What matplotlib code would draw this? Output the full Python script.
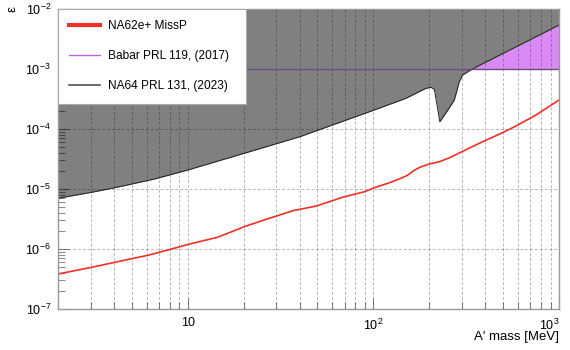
import matplotlib
matplotlib.use("Agg")
import matplotlib.pyplot as plt
from matplotlib.lines import Line2D
from matplotlib.ticker import LogLocator, FuncFormatter, NullFormatter
import numpy as np

plt.rcParams['font.family'] = ['Liberation Sans', 'DejaVu Sans']
plt.rcParams['mathtext.fontset'] = 'custom'
plt.rcParams['mathtext.rm'] = 'Liberation Sans'
plt.rcParams['mathtext.it'] = 'Liberation Sans:italic'
plt.rcParams['mathtext.bf'] = 'Liberation Sans:bold'

# NA62 e+ missing-momentum projected sensitivity
na62_mass = [2, 3.03, 4.05, 4.98, 6.1, 7.2, 8.86, 10, 14.5, 20.2, 26.5, 31.3, 36.8,
             49.2, 68.4, 89.5, 103, 122, 140, 152, 163, 178, 200, 227, 257, 372, 497,
             586, 751, 1000]
na62_eps = [3.83e-7, 4.95e-7, 6.0e-7, 6.9e-7, 7.85e-7, 9.0e-7, 1.07e-6, 1.19e-6,
            1.57e-6, 2.36e-6, 3.13e-6, 3.69e-6, 4.35e-6, 5.2e-6, 7.3e-6, 9.0e-6,
            1.07e-5, 1.27e-5, 1.50e-5, 1.68e-5, 1.98e-5, 2.30e-5, 2.61e-5, 2.85e-5,
            3.32e-5, 5.78e-5, 8.7e-5, 1.12e-4, 1.71e-4, 3.04e-4]

# NA64 exclusion boundary
na64_mass = [2, 3.03, 4.05, 6.64, 10, 21.5, 40, 101, 150, 192, 204, 213, 215, 228,
             250, 273, 290, 302, 328, 350, 1000]
na64_eps = [7.0e-6, 8.8e-6, 1.05e-5, 1.47e-5, 2.07e-5, 4.18e-5, 7.4e-5, 2.07e-4,
            3.25e-4, 4.77e-4, 4.95e-4, 4.6e-4, 3.9e-4, 1.32e-4, 2.0e-4, 3.04e-4,
            6.1e-4, 7.9e-4, 9.3e-4, 1.04e-3, 5.4e-3]

# BaBar limit
babar_mass = [2, 1000]
babar_eps = [1e-3, 1e-3]

x_range = [2, 1000]
y_range = [1e-7, 1e-2]

labels = ["NA62e+ MissP", "Babar PRL 119, (2017)", "NA64 PRL 131, (2023)"]

fig = plt.figure(figsize=(5.7, 3.5), dpi=100)
ax = fig.add_axes([58/570, 41/350, 501/570, 300/350])
ax.set_xscale('log')
ax.set_yscale('log')
ax.set_xlim(*x_range)
ax.set_ylim(*y_range)

# exclusion regions
ax.fill_between(babar_mass, babar_eps, y_range[1], color='#da8af5', lw=0, zorder=1)
ax.fill_between(na64_mass, na64_eps, y_range[1], color='#808080', lw=0, zorder=2)
ax.plot(na64_mass, na64_eps, color='#222222', lw=0.7, zorder=3)
ax.plot(babar_mass, babar_eps, color='#6f4f80', lw=1.0, zorder=3)

# sensitivity curve
ax.plot(na62_mass, na62_eps, color='#ee3028', lw=1.2, zorder=6)

# grid
ax.xaxis.set_major_locator(LogLocator(base=10, numticks=10))
ax.xaxis.set_minor_locator(LogLocator(base=10, subs=np.arange(2, 10), numticks=20))
ax.yaxis.set_major_locator(LogLocator(base=10, numticks=10))
ax.yaxis.set_minor_locator(LogLocator(base=10, subs=np.arange(2, 10), numticks=20))
ax.grid(True, which='major', axis='both', color='black', alpha=0.28, ls=(0, (3, 2)), lw=0.7, zorder=4)
ax.grid(True, which='minor', axis='x', color='black', alpha=0.28, ls=(0, (3, 2)), lw=0.7, zorder=4)
ax.set_axisbelow(False)


def xfmt(v, pos):
    e = int(round(np.log10(v)))
    if e == 1:
        return "10"
    return r"$10^{%d}$" % e


def yfmt(v, pos):
    e = int(round(np.log10(v)))
    return r"$10^{%d}$" % e


ax.xaxis.set_major_formatter(FuncFormatter(xfmt))
ax.yaxis.set_major_formatter(FuncFormatter(yfmt))
ax.xaxis.set_minor_formatter(NullFormatter())
ax.yaxis.set_minor_formatter(NullFormatter())

ax.tick_params(which='both', direction='in', colors=(0, 0, 0, 0.45), labelcolor='black',
               labelsize=9, top=False, right=False)
ax.tick_params(which='major', length=8, width=0.8)
ax.tick_params(which='minor', length=5, width=0.8)
ax.tick_params(axis='x', pad=6)
ax.tick_params(axis='y', pad=5)

for s in ax.spines.values():
    s.set_color('#999999')
    s.set_linewidth(1.0)
    s.set_zorder(7)

fig.text(559/570, (350-337)/350, "A' mass [MeV]", ha='right', va='center', fontsize=9.5)
fig.text(13/570, (350-6)/350, "ε", ha='center', va='top', rotation=90, fontsize=9.5)

handles = [Line2D([], [], color='#ee3028', lw=3),
           Line2D([], [], color='#bb66e6', lw=1.0),
           Line2D([], [], color='#505050', lw=1.2)]
leg = ax.legend(handles, labels, loc='upper left',
                bbox_to_anchor=(0, 1 - 92/300, 188/501, 92/300), mode='expand',
                borderaxespad=0, fontsize=8.6, frameon=True, fancybox=False,
                handlelength=2.6, handletextpad=0.6, labelspacing=1.5,
                borderpad=0.95)
leg.get_frame().set_edgecolor('#aaaaaa')
leg.get_frame().set_linewidth(0.8)
leg.get_frame().set_alpha(1.0)
leg.set_zorder(10)

# keep the last decade label inside the figure
fig.canvas.draw()
for lab in ax.get_xticklabels():
    if lab.get_text() == r"$10^{3}$":
        lab.set_horizontalalignment('right')
        lab.set_x(lab.get_position()[0])

fig.savefig("out.png", dpi=100)
